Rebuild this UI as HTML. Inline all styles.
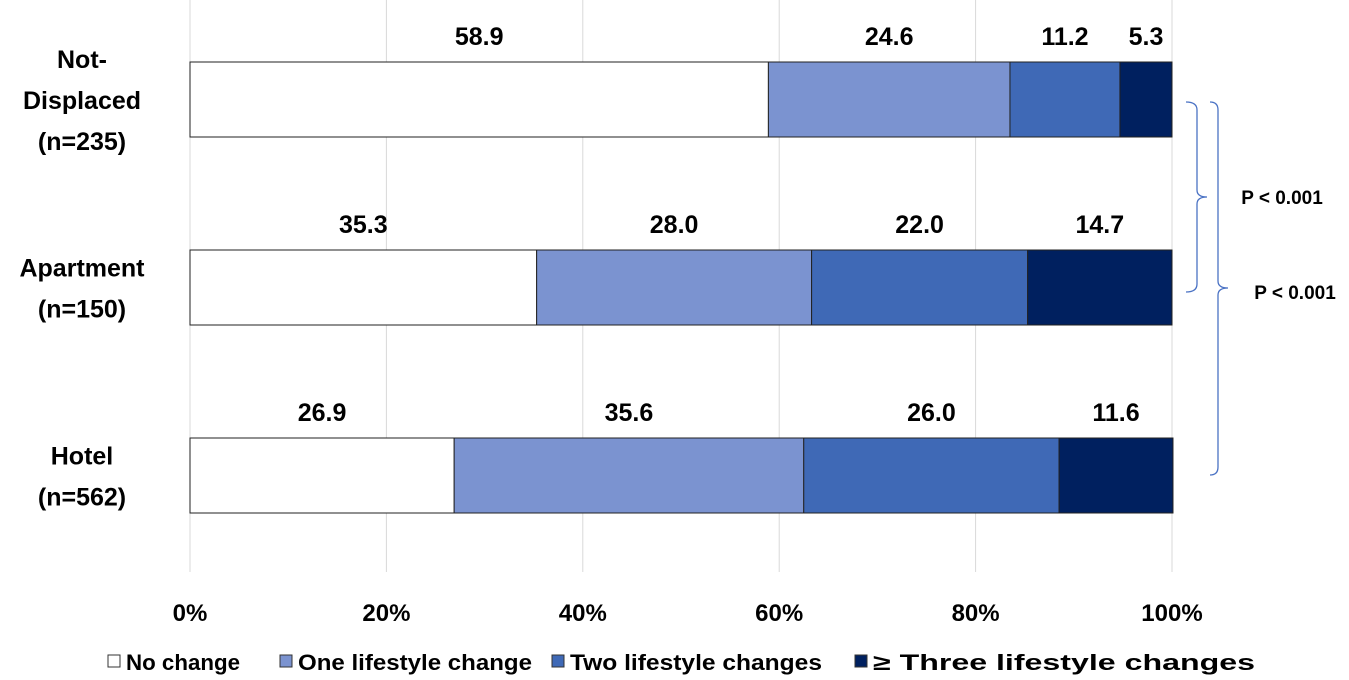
<!DOCTYPE html>
<html><head><meta charset="utf-8"><style>
html,body{margin:0;padding:0;background:#fff;}
svg{display:block;font-family:"Liberation Sans",sans-serif;font-weight:bold;}
</style></head><body>
<svg id="chart" width="1349" height="680" viewBox="0 0 1349 680">
<g id="grid"></g><g id="bars"></g><g id="labels"></g><g id="ticks"></g><g id="cats"></g>
<g fill="none" stroke="#4a72c4" stroke-width="1.3">
<path d="M1186 102 Q1197 102 1197 110 L1197 190 Q1197 197 1207 197 Q1197 197 1197 204 L1197 284 Q1197 292 1186 292"/>
<path d="M1210 102 Q1218 102 1218 110 L1218 281 Q1218 288 1228 288 Q1218 288 1218 295 L1218 467 Q1218 475 1210 475"/>
</g>
<text x="1282" y="204" font-size="19" text-anchor="middle">P &lt; 0.001</text>
<text x="1295" y="299" font-size="19" text-anchor="middle">P &lt; 0.001</text>
<g id="legend"></g>
</svg>
<script>
const categories=[["Not-","Displaced","(n=235)"],["Apartment","(n=150)"],["Hotel","(n=562)"]];
const seriesNames=["No change","One lifestyle change","Two lifestyle changes","≥ Three lifestyle changes"];
const noChange=[58.9,35.3,26.9];
const oneChange=[24.6,28.0,35.6];
const twoChange=[11.2,22.0,26.0];
const threeChange=[5.3,14.7,11.6];
const tickLabels=["0%","20%","40%","60%","80%","100%"];
const ticks=[0,20,40,60,80,100];
const colors=["#ffffff","#7b93d0","#3f69b6","#00205f"];
const NS="http://www.w3.org/2000/svg";
const x0=190,x1=1172;
const xs=v=>x0+(x1-x0)*v/100;
const barTop=[62,250,438],barH=75;
function mk(t,a,p){const e=document.createElementNS(NS,t);for(const k in a)e.setAttribute(k,a[k]);p.appendChild(e);return e;}
const grid=document.getElementById('grid'),tk=document.getElementById('ticks');
ticks.forEach((t,i)=>{
 const l=mk('line',{x1:xs(t),x2:xs(t),y1:0,y2:572,stroke:'#d9d9d9','stroke-width':1},grid);
 
 
 const tx=mk('text',{x:xs(t),y:621,'font-size':24,'text-anchor':'middle'},tk);
 
 
 tx.textContent=tickLabels[i];
});
const series=[noChange,oneChange,twoChange,threeChange];
const bars=document.getElementById('bars'),labs=document.getElementById('labels');
categories.forEach((c,i)=>{
 let acc=0;
 series.forEach((s,j)=>{
  const v=s[i];
  const r=mk('rect',{x:xs(acc),y:barTop[i],width:xs(acc+v)-xs(acc),height:barH,fill:colors[j],stroke:'#222','stroke-width':1},bars);
  
  
  const t=mk('text',{x:xs(acc+v/2),y:barTop[i]-17,'font-size':25,'text-anchor':'middle'},labs);
  
  
  t.textContent=v.toFixed(1);
  acc+=v;
 });
});
const cats=document.getElementById('cats');
const catCenter=[100,288,476];
categories.forEach((c,i)=>{
 const n=c.length,lh=41;
 c.forEach((line,k)=>{
  const t=mk('text',{x:82,y:catCenter[i]+(k-(n-1)/2)*lh+9,'font-size':25,'text-anchor':'middle'},cats);
  
  
  t.textContent=line;
 });
});
const leg=document.getElementById('legend');
const legX=[108,280,552,855],legW=[132,252,270,400];
seriesNames.forEach((n,i)=>{
 const r=mk('rect',{x:legX[i],y:655,width:12,height:12,fill:colors[i],stroke:'#333','stroke-width':1},leg);
 
 
 const t=mk('text',{x:legX[i]+18,y:670,'font-size':22,textLength:legW[i]-18,lengthAdjust:'spacingAndGlyphs'},leg);
 
 
 t.textContent=n;
});
</script>
</body></html>
